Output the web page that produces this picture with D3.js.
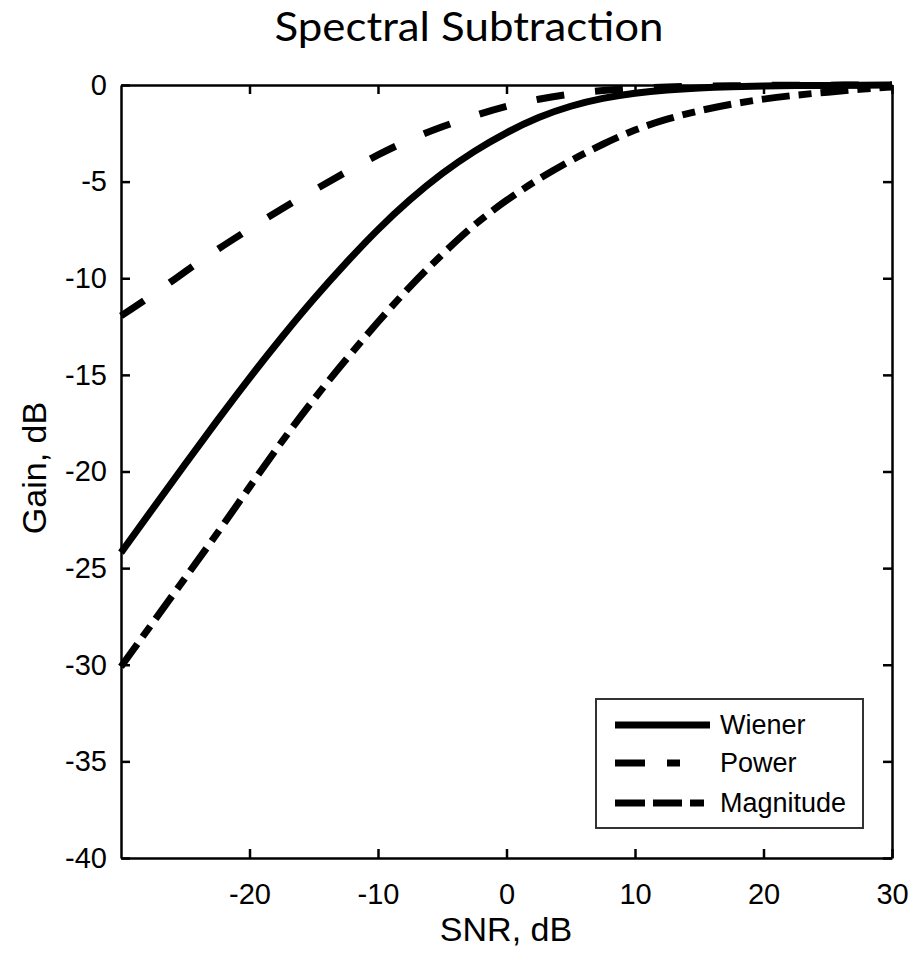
<!DOCTYPE html>
<html>
<head>
<meta charset="utf-8">
<script src="https://cdn.jsdelivr.net/npm/d3@7"></script>
<style>
  body { margin: 0; background: #fff; }
  text { font-family: "Liberation Sans", Arial, sans-serif; fill: #000; }
</style>
</head>
<body>
<div id="chart"></div>
<script>
const snr = [-30, -27.5, -25, -22.5, -20, -17.5, -15, -12.5, -10, -7.5, -5, -2.5,
             0, 2.5, 5, 7.5, 10, 12.5, 15, 17.5, 20, 22.5, 25, 27.5, 30];

// Gain curves, dB
const wiener = [-24.2, -21.9, -19.6, -17.35, -15.15, -13.05, -11.05, -9.2, -7.45, -5.9, -4.55, -3.4,
                -2.45, -1.65, -1.07, -0.67, -0.41, -0.25, -0.15, -0.09, -0.05, -0.03, -0.02, -0.01, 0];
const power = [-11.95, -10.85, -9.65, -8.5, -7.45, -6.4, -5.45, -4.5, -3.6, -2.8, -2.15, -1.58,
               -1.08, -0.72, -0.45, -0.28, -0.16, -0.1, -0.06, -0.04, -0.02, -0.01, -0.01, 0, 0];
const magnitude = [-30.1, -27.8, -25.5, -23.2, -20.8, -18.45, -16.25, -14.2, -12.25, -10.4, -8.75, -7.2,
                   -5.95, -4.85, -3.9, -3.05, -2.3, -1.75, -1.32, -0.98, -0.72, -0.52, -0.37, -0.22, -0.1];

const seriesNames = ["Wiener", "Power", "Magnitude"];
const xTicks = [-20, -10, 0, 10, 20, 30];
const yTicks = [0, -5, -10, -15, -20, -25, -30, -35, -40];

const W = 916, H = 956;
const margin = {top: 85, right: 24, bottom: 98, left: 121};
const width = W - margin.left - margin.right,
      height = H - margin.top - margin.bottom;

const svg = d3.select("#chart").append("svg")
    .attr("width", W)
    .attr("height", H);

const g = svg.append("g")
    .attr("transform", `translate(${margin.left},${margin.top})`);

const x = d3.scaleLinear().domain([-30, 30]).range([0, width]);
const y = d3.scaleLinear().domain([-40, 0]).range([height, 0]);

// title
svg.append("text")
    .attr("x", 469)
    .attr("y", 41)
    .attr("text-anchor", "middle")
    .attr("textLength", 389)
    .attr("lengthAdjust", "spacingAndGlyphs")
    .style("font-family", "Lato, 'Open Sans', sans-serif")
    .style("font-size", "40px")
    .text("Spectral Subtraction");

// curves
const line = d3.line()
    .x((d, i) => x(snr[i]))
    .y(d => y(d))
    .curve(d3.curveBasis);

const styles = {
    Wiener: null,
    Power: "28,31",
    Magnitude: "28,9,13,9"
};

[wiener, power, magnitude].forEach((vals, k) => {
    g.append("path")
        .datum(vals)
        .attr("d", line)
        .attr("fill", "none")
        .attr("stroke", "#000")
        .attr("stroke-width", 7)
        .attr("stroke-dasharray", styles[seriesNames[k]]);
});

// axes, ticks pointing inward, box on all sides
const fmt = d => String(d);

g.append("g")
    .attr("transform", `translate(0,${height})`)
    .call(d3.axisBottom(x).tickValues(xTicks).tickFormat(fmt)
        .tickSizeInner(-9).tickSizeOuter(0).tickPadding(25));

g.append("g")
    .call(d3.axisLeft(y).tickValues(yTicks).tickFormat(fmt)
        .tickSizeInner(-9).tickSizeOuter(0).tickPadding(14));

g.append("g")
    .call(d3.axisTop(x).tickValues(xTicks).tickFormat("")
        .tickSizeInner(-9).tickSizeOuter(0));

g.append("g")
    .attr("transform", `translate(${width},0)`)
    .call(d3.axisRight(y).tickValues(yTicks).tickFormat("")
        .tickSizeInner(-9).tickSizeOuter(0));

g.selectAll(".domain").attr("stroke", "#000").attr("stroke-width", 2.5);
g.selectAll(".tick line").attr("stroke", "#000").attr("stroke-width", 2.5);
g.selectAll(".tick text")
    .style("font-size", "29px")
    .style("font-family", "'Liberation Sans', Arial, sans-serif");

// axis labels
svg.append("text")
    .attr("x", 506)
    .attr("y", 941)
    .attr("text-anchor", "middle")
    .style("font-size", "34px")
    .text("SNR, dB");

svg.append("text")
    .attr("transform", "translate(46,468) rotate(-90)")
    .attr("text-anchor", "middle")
    .style("font-size", "34px")
    .text("Gain, dB");

// legend
const legend = svg.append("g");
legend.append("rect")
    .attr("x", 596).attr("y", 699)
    .attr("width", 267).attr("height", 129)
    .attr("fill", "#fff")
    .attr("stroke", "#333")
    .attr("stroke-width", 2);

const legendDash = {
    Wiener: null,
    Power: "30,22,13,100",
    Magnitude: "30,8,29,8,14,100"
};
const legendY = [725, 763, 803];

seriesNames.forEach((name, i) => {
    legend.append("line")
        .attr("x1", 615).attr("x2", 710)
        .attr("y1", legendY[i]).attr("y2", legendY[i])
        .attr("stroke", "#000")
        .attr("stroke-width", 7)
        .attr("stroke-dasharray", legendDash[name]);
    legend.append("text")
        .attr("x", 720)
        .attr("y", legendY[i])
        .attr("dy", "0.35em")
        .style("font-size", "27px")
        .text(name);
});
</script>
</body>
</html>
